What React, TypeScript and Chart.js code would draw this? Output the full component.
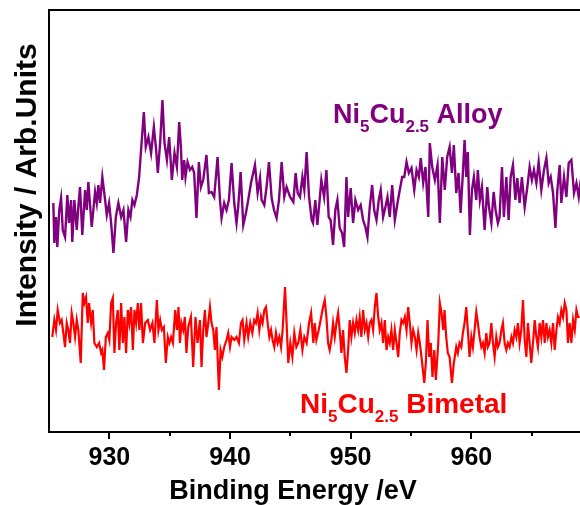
import React, { useEffect, useRef } from "react";
import { Chart, registerables } from "chart.js";

Chart.register(...registerables);

const FONT = '"Liberation Sans", Arial, Helvetica, sans-serif';

const xTickValues = [930, 940, 950, 960];
const xMinorTickValues = [935, 945, 955, 965];
const xTitle = "Binding Energy /eV";
const yTitle = "Intensity / Arb.Units";

const alloyColor = "#800080";
const bimetalColor = "#ff0000";

const alloyLabel: [string, boolean][] = [["Ni", false], ["5", true], ["Cu", false], ["2.5", true], [" Alloy", false]];
const bimetalLabel: [string, boolean][] = [["Ni", false], ["5", true], ["Cu", false], ["2.5", true], [" Bimetal", false]];

// [binding energy (eV), intensity (arb.)]
const alloyPoints: [number, number][] = [
  [925.36,229],[925.44,189],[925.58,215],[925.69,185],[925.85,222],[926.00,234],[926.14,202],[926.33,195],[926.52,237],[926.66,209],
  [926.83,232],[926.93,190],[927.10,232],[927.30,202],[927.43,225],[927.57,245],[927.76,197],[927.99,242],[928.13,222],[928.26,250],
  [928.54,205],[928.82,240],[928.96,229],[929.09,247],[929.23,229],[929.42,255],[929.65,232],[929.79,217],[929.98,229],[930.15,209],
  [930.34,179],[930.54,215],[930.75,229],[930.98,215],[931.17,222],[931.39,190],[931.58,222],[931.75,215],[931.91,232],[932.08,227],
  [932.28,237],[932.47,255],[932.63,282],[932.86,320],[933.02,285],[933.24,295],[933.46,279],[933.69,305],[933.88,282],[934.02,259],
  [934.21,289],[934.40,332],[934.57,289],[934.77,272],[934.96,295],[935.18,252],[935.40,279],[935.60,265],[935.79,310],[935.93,285],
  [936.04,252],[936.20,272],[936.31,255],[936.48,270],[936.68,262],[936.87,265],[937.03,259],[937.22,214],[937.42,270],[937.59,245],
  [937.78,252],[938.05,277],[938.25,239],[938.47,240],[938.69,235],[938.97,275],[939.17,232],[939.30,214],[939.52,229],[939.71,222],
  [939.91,232],[940.13,269],[940.35,229],[940.54,209],[940.68,225],[940.88,260],[941.10,207],[941.32,219],[941.51,232],[941.74,249],
  [942.07,267],[942.29,239],[942.49,254],[942.62,232],[942.84,227],[943.03,245],[943.23,270],[943.45,234],[943.65,222],[943.86,214],
  [944.06,232],[944.28,270],[944.50,235],[944.69,245],[944.98,235],[945.25,230],[945.44,259],[945.61,239],[945.80,235],[946.00,255],
  [946.16,242],[946.35,280],[946.55,235],[946.77,212],[946.88,209],[947.07,232],[947.24,207],[947.43,232],[947.57,252],[947.80,235],
  [947.99,262],[948.18,215],[948.34,212],[948.54,187],[948.73,222],[948.90,232],[949.09,204],[949.29,199],[949.46,185],[949.65,255],
  [949.79,215],[950.00,244],[950.20,209],[950.39,232],[950.62,222],[950.83,227],[951.03,212],[951.22,205],[951.39,195],[951.58,225],
  [951.78,247],[951.95,222],[952.14,212],[952.33,232],[952.49,242],[952.69,215],[952.88,225],[953.05,235],[953.24,215],[953.44,247],
  [953.66,212],[953.88,229],[954.07,242],[954.27,255],[954.44,255],[954.63,270],[954.82,259],[955.04,264],[955.27,242],[955.46,262],
  [955.65,255],[955.81,274],[956.01,249],[956.20,265],[956.43,215],[956.56,289],[956.76,265],[956.98,252],[957.20,267],[957.39,209],
  [957.59,275],[957.80,242],[958.00,275],[958.20,285],[958.39,259],[958.55,287],[958.75,239],[958.94,259],[959.11,219],[959.30,259],
  [959.44,292],[959.58,255],[959.71,280],[959.88,197],[960.05,242],[960.21,255],[960.41,232],[960.54,262],[960.71,232],[960.88,245],
  [961.10,202],[961.32,245],[961.46,225],[961.66,209],[961.85,240],[962.01,222],[962.20,209],[962.34,215],[962.54,265],[962.70,215],
  [962.90,255],[963.09,212],[963.26,255],[963.45,267],[963.65,232],[963.81,254],[964.00,229],[964.19,255],[964.42,225],[964.64,245],
  [964.83,265],[965.02,252],[965.19,262],[965.39,249],[965.58,270],[965.80,242],[966.02,262],[966.22,274],[966.41,249],[966.58,255],
  [966.77,239],[966.97,204],[967.13,242],[967.32,267],[967.46,229],[967.68,255],[967.88,235],[968.07,269],[968.29,272],[968.51,239],
  [968.71,249],[968.90,235],[969.07,252]
];

const bimetalPoints: [number, number][] = [
  [925.27,95],[925.44,112],[925.58,102],[925.72,122],[925.91,109],[926.05,112],[926.19,99],[926.33,85],[926.47,109],[926.60,102],
  [926.74,89],[926.88,119],[927.02,109],[927.16,95],[927.30,112],[927.43,102],[927.63,69],[927.80,139],[927.93,129],[928.07,135],
  [928.21,109],[928.32,129],[928.49,109],[928.63,122],[928.76,89],[928.96,85],[929.15,89],[929.32,79],[929.42,82],[929.56,62],
  [929.71,95],[929.87,99],[930.00,92],[930.15,129],[930.29,134],[930.42,79],[930.56,109],[930.70,122],[930.83,82],[930.98,129],
  [931.12,89],[931.25,115],[931.39,79],[931.53,122],[931.66,109],[931.80,125],[931.95,82],[932.08,122],[932.22,109],[932.36,129],
  [932.49,102],[932.63,129],[932.78,89],[932.97,109],[933.19,112],[933.38,102],[933.57,109],[933.74,89],[933.94,132],[934.07,102],
  [934.21,112],[934.35,102],[934.52,105],[934.68,69],[934.85,95],[934.98,89],[935.12,95],[935.27,89],[935.46,122],[935.60,102],
  [935.73,125],[935.85,89],[935.98,109],[936.12,102],[936.26,115],[936.39,79],[936.54,105],[936.76,115],[936.95,65],[937.14,115],
  [937.31,89],[937.51,112],[937.64,65],[937.78,102],[937.92,122],[938.05,95],[938.20,109],[938.34,125],[938.47,109],[938.61,102],
  [938.75,82],[938.88,105],[939.08,42],[939.22,82],[939.36,75],[939.52,85],[939.71,92],[939.85,99],[940.00,85],[940.13,95],
  [940.35,92],[940.54,95],[940.74,89],[940.91,109],[941.04,112],[941.18,92],[941.37,109],[941.51,95],[941.68,109],[941.85,99],
  [942.01,112],[942.15,109],[942.29,119],[942.43,102],[942.57,115],[942.70,109],[942.84,122],[942.98,125],[943.12,109],[943.26,95],
  [943.40,102],[943.53,92],[943.67,85],[943.81,99],[943.95,89],[944.09,95],[944.23,85],[944.36,102],[944.56,145],[944.69,109],
  [944.83,69],[945.00,89],[945.17,75],[945.33,99],[945.50,85],[945.66,89],[945.83,102],[946.00,82],[946.16,95],[946.35,89],
  [946.55,109],[946.72,119],[946.91,89],[947.02,109],[947.16,92],[947.35,102],[947.51,112],[947.71,125],[947.85,132],[947.99,115],
  [948.13,89],[948.26,82],[948.40,92],[948.54,109],[948.68,95],[948.82,109],[948.96,119],[949.09,102],[949.23,79],[949.37,102],
  [949.51,75],[949.65,59],[949.79,82],[949.92,112],[950.06,95],[950.20,109],[950.34,99],[950.48,112],[950.62,102],[950.75,115],
  [950.89,95],[951.03,122],[951.17,102],[951.31,109],[951.45,95],[951.58,109],[951.72,112],[951.86,102],[952.00,125],[952.14,139],
  [952.28,115],[952.41,102],[952.55,109],[952.69,89],[952.83,112],[952.97,82],[953.11,95],[953.24,89],[953.38,102],[953.52,82],
  [953.66,102],[953.80,89],[953.94,75],[954.07,99],[954.21,112],[954.35,109],[954.49,115],[954.63,102],[954.77,125],[954.90,109],
  [955.04,89],[955.18,102],[955.32,95],[955.46,82],[955.60,99],[955.73,89],[955.87,75],[956.10,49],[956.23,69],[956.37,112],
  [956.51,75],[956.64,89],[956.78,55],[956.93,82],[957.06,52],[957.26,89],[957.39,129],[957.53,119],[957.67,102],[957.78,122],
  [957.92,95],[958.05,79],[958.20,75],[958.39,49],[958.55,69],[958.75,85],[958.88,79],[959.02,89],[959.17,85],[959.30,99],
  [959.44,109],[959.58,125],[959.71,102],[959.85,75],[960.00,95],[960.13,85],[960.27,102],[960.41,120],[960.54,109],[960.68,95],
  [960.83,85],[960.96,89],[961.10,79],[961.24,99],[961.37,85],[961.51,89],[961.66,109],[961.79,89],[961.93,75],[962.07,95],
  [962.20,85],[962.34,89],[962.49,102],[962.62,109],[962.76,89],[962.90,82],[963.03,89],[963.17,85],[963.32,95],[963.45,89],
  [963.59,102],[963.73,95],[963.86,109],[964.00,89],[964.14,102],[964.28,132],[964.42,92],[964.56,75],[964.69,109],[964.83,89],
  [964.97,69],[965.11,89],[965.25,112],[965.39,95],[965.52,85],[965.66,109],[965.80,95],[965.94,112],[966.08,89],[966.22,109],
  [966.35,95],[966.49,102],[966.63,89],[966.77,109],[966.91,82],[967.05,102],[967.18,115],[967.32,109],[967.46,122],[967.60,115],
  [967.74,129],[967.88,122],[968.01,89],[968.15,109],[968.29,89],[968.43,112],[968.57,102],[968.71,122],[968.84,115],[968.98,115]
];

function drawRich(ctx: CanvasRenderingContext2D, x: number, y: number, parts: [string, boolean][], color: string, size: number, subSize: number, subDrop: number) {
  ctx.save();
  ctx.fillStyle = color;
  ctx.textAlign = "left";
  ctx.textBaseline = "alphabetic";
  let cx = x;
  for (const [t, sub] of parts) {
    ctx.font = `bold ${sub ? subSize : size}px ${FONT}`;
    ctx.fillText(t, cx, sub ? y + subDrop : y);
    cx += ctx.measureText(t).width;
  }
  ctx.restore();
}

const decorPlugin = {
  id: "decor",
  afterDraw(chart: any) {
    const { ctx, chartArea, scales } = chart;
    const xs = scales.x;
    ctx.save();
    ctx.strokeStyle = "#000";
    ctx.lineWidth = 2;
    // top frame line
    ctx.beginPath();
    ctx.moveTo(chartArea.left - 1, chartArea.top);
    ctx.lineTo(chartArea.right, chartArea.top);
    ctx.stroke();
    // tick marks
    const drawTick = (v: number, len: number) => {
      const px = Math.round(xs.getPixelForValue(v));
      ctx.beginPath();
      ctx.moveTo(px, chartArea.bottom);
      ctx.lineTo(px, chartArea.bottom + len);
      ctx.stroke();
    };
    xTickValues.forEach((v) => drawTick(v, 7));
    xMinorTickValues.forEach((v) => drawTick(v, 4));
    // axis titles
    ctx.fillStyle = "#000";
    ctx.font = `bold 27px ${FONT}`;
    ctx.textAlign = "center";
    ctx.textBaseline = "alphabetic";
    ctx.fillText(xTitle, 293, 499);
    ctx.translate(36, 185);
    ctx.rotate(-Math.PI / 2);
    ctx.font = `bold 30px ${FONT}`;
    ctx.fillText(yTitle, 0, 0);
    ctx.restore();
    // series labels
    drawRich(ctx, 333, 123, alloyLabel, alloyColor, 27, 17, 9);
    drawRich(ctx, 300, 413, bimetalLabel, bimetalColor, 28, 17, 9);
  },
};

export default function App() {
  const canvasRef = useRef<HTMLCanvasElement | null>(null);
  useEffect(() => {
    if (!canvasRef.current) return;
    const chart = new Chart(canvasRef.current, {
      type: "line",
      data: {
        datasets: [
          {
            label: "Ni5Cu2.5 Alloy",
            data: alloyPoints.map(([x, y]) => ({ x, y })),
            borderColor: alloyColor,
            borderWidth: 2.4,
            pointRadius: 0,
            tension: 0,
            fill: false,
          },
          {
            label: "Ni5Cu2.5 Bimetal",
            data: bimetalPoints.map(([x, y]) => ({ x, y })),
            borderColor: bimetalColor,
            borderWidth: 2.2,
            pointRadius: 0,
            tension: 0,
            fill: false,
          },
        ],
      },
      options: {
        animation: false,
        responsive: false,
        maintainAspectRatio: false,
        devicePixelRatio: 1,
        layout: { padding: { top: 10, right: 28, left: 0, bottom: 0 } },
        plugins: { legend: { display: false }, tooltip: { enabled: false } },
        scales: {
          x: {
            type: "linear",
            min: 925,
            max: 970,
            afterBuildTicks: (s: any) => {
              s.ticks = xTickValues.map((v) => ({ value: v }));
            },
            afterFit: (s: any) => {
              s.height = 73;
            },
            ticks: {
              autoSkip: false,
              maxRotation: 0,
              padding: 11,
              color: "#000",
              font: { family: FONT, size: 25, weight: "bold" },
            },
            grid: { display: true, drawOnChartArea: false, drawTicks: false },
            border: { display: true, color: "#000", width: 2 },
          },
          y: {
            type: "linear",
            min: 0,
            max: 422,
            afterFit: (s: any) => {
              s.width = 49;
            },
            ticks: { display: false },
            grid: { display: true, drawOnChartArea: false, drawTicks: false },
            border: { display: true, color: "#000", width: 2 },
          },
        },
      },
      plugins: [decorPlugin],
    } as any);
    return () => chart.destroy();
  }, []);
  return (
    <div style={{ position: "fixed", left: 0, top: 0, width: 580, height: 505, overflow: "hidden", background: "#fff" }}>
      <canvas ref={canvasRef} width={620} height={505} style={{ display: "block", width: 620, height: 505 }} />
    </div>
  );
}
